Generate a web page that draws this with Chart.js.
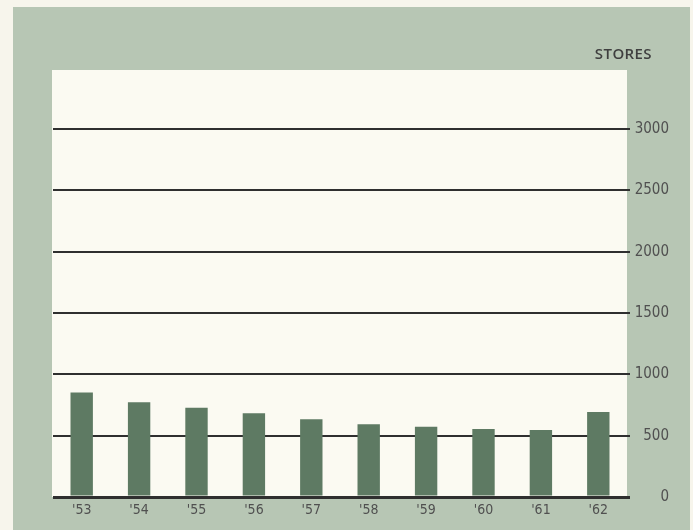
<!DOCTYPE html>
<html>
<head>
<meta charset="utf-8">
<script src="https://cdn.jsdelivr.net/npm/chart.js@4/dist/chart.umd.min.js"></script>
<style>
  html, body { margin: 0; padding: 0; background: #f7f5ec; }
  #wrap { width: 693px; height: 530px; position: relative; }
</style>
</head>
<body>
<div id="wrap"><canvas id="c" width="693" height="530"></canvas></div>
<script>
// Number of stores at year end, 1953-1962
const years = ["'53", "'54", "'55", "'56", "'57", "'58", "'59", "'60", "'61", "'62"];
const stores = [851, 772, 728, 683, 634, 593, 573, 555, 547, 693];
const yTicks = [0, 500, 1000, 1500, 2000, 2500, 3000];
const unitLabel = 'STORES';

const PANEL = '#b7c6b4';
const PAPER = '#fbfaf2';
const BAR = '#5e7a63';
const INK = '#2f2f2f';
const TEXT = '#505050';
const NARROW = "'DejaVu Sans Condensed', 'Liberation Sans Narrow', 'Liberation Sans', sans-serif";

// Green mat, cream plotting card and the unit caption
const backdrop = {
  id: 'backdrop',
  beforeDraw(chart) {
    const { ctx, chartArea } = chart;
    ctx.save();
    ctx.fillStyle = '#f7f5ec';
    ctx.fillRect(0, 0, chart.width, chart.height);
    ctx.fillStyle = PANEL;
    ctx.fillRect(13, 7, 677, chart.height - 7);
    ctx.fillStyle = PAPER;
    ctx.fillRect(chartArea.left - 1, 70, chartArea.right - chartArea.left + 1, chartArea.bottom - 70);
    ctx.restore();
  },
  afterDraw(chart) {
    const { ctx } = chart;
    ctx.save();
    ctx.fillStyle = '#3f3f3f';
    ctx.font = "600 15px 'Open Sans', 'Liberation Sans', sans-serif";
    ctx.letterSpacing = '0.4px';
    ctx.textAlign = 'right';
    ctx.textBaseline = 'middle';
    ctx.fillText(unitLabel, 652, 55);
    ctx.restore();
  }
};

new Chart(document.getElementById('c'), {
  type: 'bar',
  data: {
    labels: years,
    datasets: [{
      data: stores,
      backgroundColor: BAR,
      borderWidth: 0,
      barPercentage: 0.39,
      categoryPercentage: 1
    }]
  },
  options: {
    responsive: false,
    animation: false,
    devicePixelRatio: 1,
    layout: { padding: { top: 129, left: 53, right: 24, bottom: 0 } },
    plugins: { legend: { display: false }, tooltip: { enabled: false } },
    scales: {
      x: {
        grid: { display: false, drawTicks: false },
        border: { display: false },
        ticks: {
          color: TEXT,
          font: { family: NARROW, size: 14 },
          padding: 5,
          maxRotation: 0
        },
        afterFit(scale) { scale.height = 33; }
      },
      y: {
        position: 'right',
        min: 0,
        max: 3000,
        z: 1,
        afterBuildTicks(scale) { scale.ticks = yTicks.map(v => ({ value: v })); },
        grid: {
          color: INK,
          lineWidth: ctx => (ctx.tick && ctx.tick.value === 0 ? 3 : 2),
          drawTicks: true,
          tickLength: 3,
          tickColor: INK
        },
        border: { display: false },
        ticks: {
          color: TEXT,
          font: { family: NARROW, size: 15 },
          padding: 5,
          crossAlign: 'far',
          callback: v => String(v)
        },
        afterFit(scale) { scale.width = 42; }
      }
    }
  },
  plugins: [backdrop]
});
</script>
</body>
</html>
